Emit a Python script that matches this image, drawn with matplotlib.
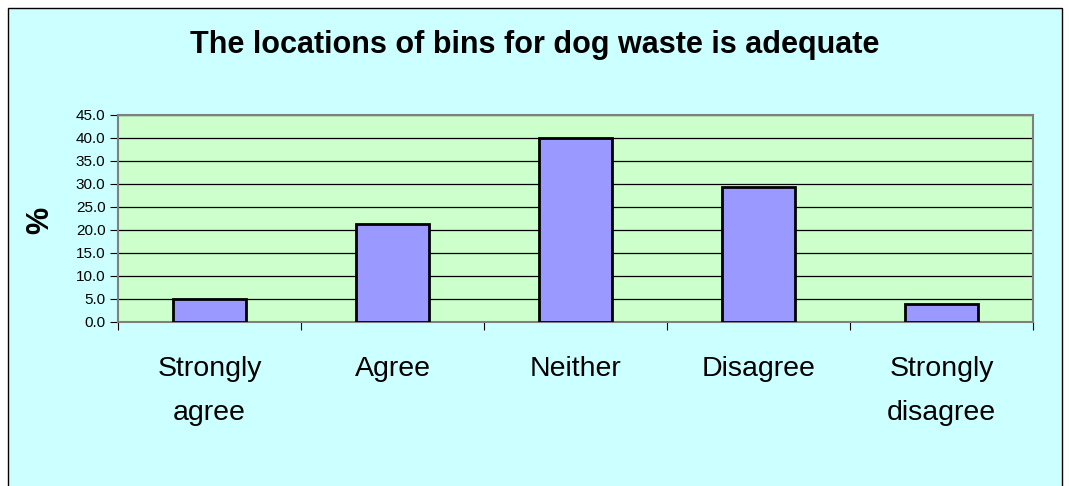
import matplotlib.pyplot as plt
import matplotlib.patches as mpatches
import numpy as np

plt.rcParams['font.family'] = ['Liberation Sans', 'DejaVu Sans']

# data
categories = ['Strongly\nagree', 'Agree', 'Neither', 'Disagree', 'Strongly\ndisagree']
values = [5.0, 21.2, 40.0, 29.4, 3.8]
yticks = [0, 5, 10, 15, 20, 25, 30, 35, 40, 45]

fig = plt.figure(figsize=(10.69, 4.86), dpi=100)
fig.patch.set_facecolor('white')

# chart area background with black border
bg = mpatches.Rectangle((8 / 1069, -0.01), (1062 - 8) / 1069, 1 - 8 / 486 + 0.01,
                        transform=fig.transFigure, facecolor='#CCFFFF',
                        edgecolor='black', linewidth=1, zorder=-10)
fig.patches.append(bg)

ax = fig.add_axes([118 / 1069, 1 - 321.7 / 486, (1033 - 118) / 1069, (321.7 - 115) / 486])
ax.set_facecolor('#CCFFCC')

x = np.arange(len(categories))
ax.bar(x, values, width=0.4, color='#9999FF', edgecolor='black', linewidth=2, zorder=3)

ax.set_xlim(-0.5, len(categories) - 0.5)
ax.set_ylim(0, 45)
ax.set_yticks(yticks)
ax.set_yticklabels(['%.1f' % t for t in yticks], fontsize=11)
ax.yaxis.grid(True, color='black', linewidth=0.9, zorder=1)
ax.set_axisbelow(True)

# category labels between boundary ticks
ax.set_xticks(np.arange(-0.5, len(categories), 1.0))
ax.set_xticklabels([])
ax.set_xticks(x, minor=True)
ax.set_xticklabels(categories, minor=True, fontsize=20.5, linespacing=1.9)
ax.tick_params(axis='x', which='minor', length=0, pad=25)
ax.tick_params(axis='x', which='major', length=6, color='black')
ax.tick_params(axis='y', length=6, color='black', pad=3)

for s in ax.spines.values():
    s.set_color('#808080')
    s.set_linewidth(1.5)

fig.text(40 / 1069, 1 - 220 / 486, '%', rotation=90, ha='center', va='center',
         fontsize=22, fontweight='bold')
fig.text(0.5, 1 - 45 / 486, 'The locations of bins for dog waste is adequate',
         ha='center', va='center', fontsize=22, fontweight='bold')

fig.savefig('out.png', dpi=100)
